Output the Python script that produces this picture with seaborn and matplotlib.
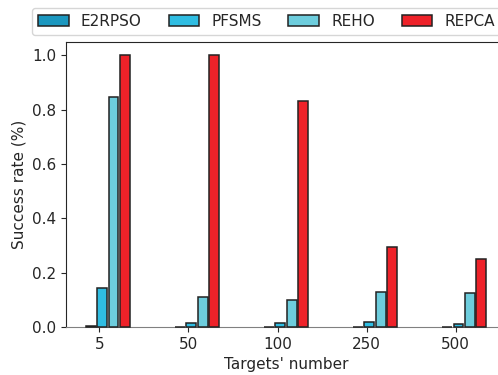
import numpy as np
import pandas as pd
import matplotlib
matplotlib.use('Agg')
import matplotlib.pyplot as plt
import seaborn as sns

# success rate per number of targets
targets = ['5', '50', '100', '250', '500']
methods = ['E2RPSO', 'PFSMS', 'REHO', 'REPCA']
e2rpso = [0.004, 0.0, 0.0, 0.0, 0.0]
pfsms = [0.145, 0.015, 0.015, 0.02, 0.01]
reho = [0.845, 0.11, 0.10, 0.13, 0.125]
repca = [1.0, 1.0, 0.83, 0.295, 0.25]
colors = ['#1b97bf', '#2fbde2', '#6dcddd', '#ee2229']

df = pd.DataFrame({
    'target': targets * 4,
    'rate': e2rpso + pfsms + reho + repca,
    'method': [m for m in methods for _ in targets],
})

sns.set_style('ticks')
plt.rcParams['font.size'] = 11
plt.rcParams['font.family'] = ['DejaVu Sans']

fig = plt.figure(figsize=(4.98, 3.75), dpi=100)
ax = fig.add_axes([0.1325, 0.128, 0.8835, 0.761])

sns.barplot(data=df, x='target', y='rate', hue='method', order=targets,
            hue_order=methods, palette=colors, saturation=1, width=0.512,
            gap=0.14, edgecolor='#222222', linewidth=1.1, errorbar=None, ax=ax)

# keep the flat (zero) bars visible over the bottom spine
for p in ax.patches:
    p.set_zorder(3)
    p.set_clip_on(False)

ax.set_xticks(np.arange(len(targets)) - 0.095, targets)
ax.set_xlim(-0.47, 4.47)
ax.set_ylim(0, 1.05)
ax.set_yticks(np.arange(0, 1.01, 0.2))
ax.set_xlabel("Targets' number")
ax.set_ylabel('Success rate (%)')
ax.spines['bottom'].set_color('#808080')

fig.legend(*ax.get_legend_handles_labels(), ncol=4, loc='lower left',
           bbox_to_anchor=(32 / 498, 1 - 35 / 375), frameon=True,
           fontsize=11, borderaxespad=0, columnspacing=1.75)
ax.get_legend().remove()

fig.savefig('out.png', dpi=100)
